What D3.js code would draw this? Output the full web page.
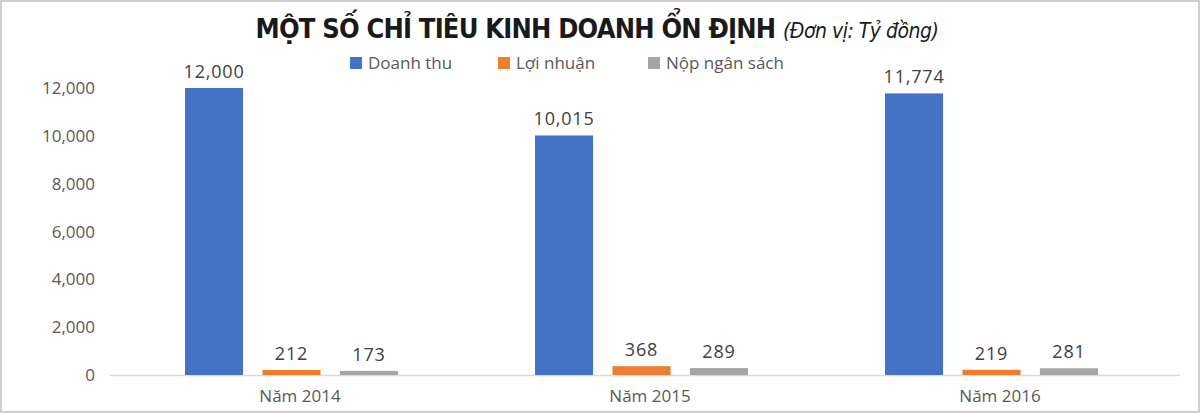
<!DOCTYPE html>
<html><head><meta charset="utf-8">
<script src="https://cdn.jsdelivr.net/npm/d3@7"></script>
<style>body{margin:0;background:#fff}svg{display:block}</style>
</head><body><svg id="c" width="1200" height="413"></svg>
<script>
const categories = ["Năm 2014","Năm 2015","Năm 2016"];
const seriesNames = ["Doanh thu","Lợi nhuận","Nộp ngân sách"];
const doanhThu = [12000,10015,11774];
const loiNhuan = [212,368,219];
const nopNganSach = [173,289,281];
const yTicks = [0,2000,4000,6000,8000,10000,12000];
const colors = ["#4472C4","#ED7D31","#A5A5A5"];
const seriesValues = [doanhThu, loiNhuan, nopNganSach];

const svg = d3.select("#c");
const font = "'Open Sans','Noto Sans',sans-serif";
svg.append("rect").attr("x",1).attr("y",1).attr("width",1198).attr("height",411)
  .attr("fill","#fff").attr("stroke","#bfbfbf").attr("stroke-width",1.5);

const t = svg.append("text").attr("x",597).attr("y",38).attr("text-anchor","middle")
  .attr("font-family","'DejaVu Sans Condensed','Liberation Sans Narrow',sans-serif").attr("fill","#1a1a1a");
t.append("tspan").attr("font-weight","bold").attr("font-size",27).attr("letter-spacing",-0.8).text("MỘT SỐ CHỈ TIÊU KINH DOANH ỔN ĐỊNH ");
t.append("tspan").attr("font-style","italic").attr("font-size",21).attr("letter-spacing",-0.5).text("(Đơn vị: Tỷ đồng)");

const y = d3.scaleLinear().domain([0,12000]).range([375,88]);
const x0 = d3.scaleBand().domain(categories).range([125,1175]);
const x1 = d3.scaleBand().domain(seriesNames).range([60,273]).paddingInner(0.25);

svg.append("g").selectAll("text").data(yTicks).join("text")
  .attr("x",95).attr("y",d=>y(d)+6).attr("text-anchor","end")
  .attr("font-family",font).attr("font-size",17).attr("fill","#595959")
  .text(d=>d3.format(",")(d));

svg.append("line").attr("x1",110).attr("x2",1180).attr("y1",375.5).attr("y2",375.5)
  .attr("stroke","#d9d9d9").attr("stroke-width",1.5);

seriesNames.forEach((s,si)=>{
  const g = svg.append("g");
  g.selectAll("rect").data(categories).join("rect")
    .attr("x",(c)=>x0(c)+x1(s)).attr("width",x1.bandwidth())
    .attr("y",(c,i)=>y(seriesValues[si][i])).attr("height",(c,i)=>375-y(seriesValues[si][i]))
    .attr("fill",colors[si]);
  g.selectAll("text").data(categories).join("text")
    .attr("x",(c)=>x0(c)+x1(s)+x1.bandwidth()/2)
    .attr("y",(c,i)=>y(seriesValues[si][i])-10).attr("text-anchor","middle")
    .attr("font-family",font).attr("font-size",18).attr("letter-spacing",0.8).attr("fill","#404040")
    .text((c,i)=>d3.format(",")(seriesValues[si][i]));
});

svg.append("g").selectAll("text").data(categories).join("text")
  .attr("x",c=>x0(c)+x0.bandwidth()/2).attr("y",402).attr("text-anchor","middle")
  .attr("font-family",font).attr("font-size",17).attr("fill","#595959").text(c=>c);

const legX = [350,498,648];
const lg = svg.append("g");
seriesNames.forEach((s,i)=>{
  lg.append("rect").attr("x",legX[i]).attr("y",57).attr("width",12).attr("height",12).attr("fill",colors[i]);
  lg.append("text").attr("x",legX[i]+18).attr("y",69).attr("font-family",font).attr("font-size",17)
    .attr("fill","#595959").text(s);
});
</script></body></html>
